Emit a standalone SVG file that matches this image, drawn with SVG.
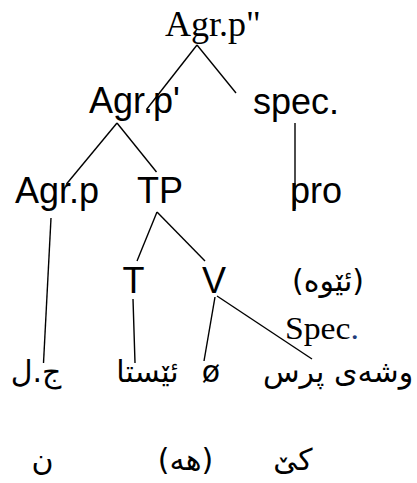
<svg xmlns="http://www.w3.org/2000/svg" width="417" height="483" viewBox="0 0 417 483">
<style>
.s{font-family:"Liberation Sans",Arial,sans-serif;font-size:36px;fill:#000}
.t{font-family:"Liberation Serif","Times New Roman",serif;fill:#000}
.a{font-family:"DejaVu Sans",sans-serif;font-size:30px;fill:#000;text-anchor:middle}
#connectors line{stroke:#000;stroke-width:1.4;stroke-linecap:butt}
</style>
<rect width="417" height="483" fill="#fff"/>
<g id="connectors">
<line x1="197" y1="45" x2="146.5" y2="109.5"/>
<line x1="197" y1="45" x2="236" y2="93"/>
<line x1="117" y1="123" x2="66.5" y2="184"/>
<line x1="117" y1="123" x2="156.5" y2="172"/>
<line x1="295" y1="123" x2="295" y2="209"/>
<line x1="51" y1="218" x2="43.5" y2="363"/>
<line x1="157" y1="212" x2="137" y2="261"/>
<line x1="157" y1="212" x2="205" y2="261"/>
<line x1="133" y1="299" x2="135" y2="363"/>
<line x1="215" y1="297" x2="204" y2="361"/>
<line x1="217" y1="296" x2="312" y2="359"/>
</g>
<g id="agrp2"><text class="t" x="165" y="36" font-size="36">Agr.p"</text></g>
<g id="agrp1"><text class="s" x="89" y="113">Agr.p'</text></g>
<g id="spec"><text class="s" x="253" y="114">spec.</text></g>
<g id="agrp"><text class="s" x="15" y="203">Agr.p</text></g>
<g id="tp"><text class="s" x="137" y="203">TP</text></g>
<g id="pro"><text class="s" x="290" y="203">pro</text></g>
<g id="t"><text class="s" x="122.5" y="293">T</text></g>
<g id="v"><text class="s" x="202" y="293">V</text></g>
<g id="eiwe"><text class="a" x="328" y="291" font-size="29">(ئێوە)</text></g>
<g id="spec2"><text class="t" x="285" y="339" font-size="31" textLength="74" lengthAdjust="spacingAndGlyphs">Spec<tspan fill="#1f3d7a">.</tspan></text></g>
<g id="jl"><text class="a" x="36" y="382">ج.ل</text></g>
<g id="esta"><text class="a" x="147.5" y="382">ئێستا</text></g>
<g id="null"><text class="a" x="211" y="382">ø</text></g>
<g id="wisha"><text class="a" x="338" y="382">وشەی پرس</text></g>
<g id="n"><text class="a" x="42.5" y="470">ن</text></g>
<g id="he"><text class="a" x="185.5" y="470">(هە)</text></g>
<g id="ke"><text class="a" x="293" y="470">کێ</text></g>
</svg>
